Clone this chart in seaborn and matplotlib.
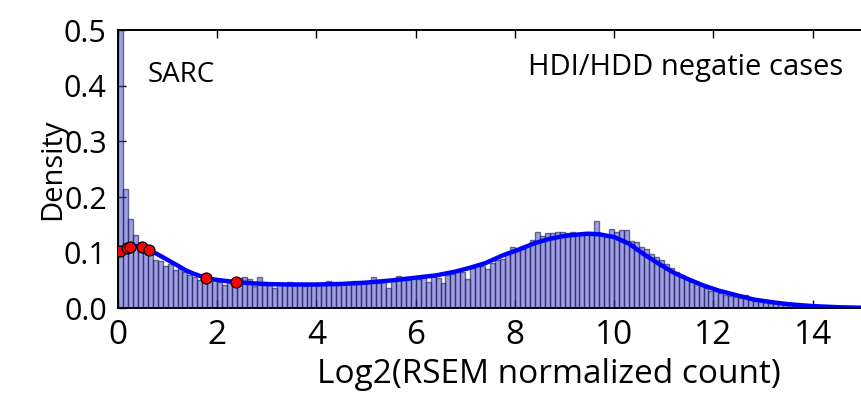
import numpy as np
import pandas as pd
import matplotlib
matplotlib.use('Agg')
import matplotlib.pyplot as plt
import seaborn as sns

sns.set_style('ticks')
plt.rcParams['font.family'] = ['Open Sans', 'DejaVu Sans']

# histogram: density per 0.1-wide bin, starting at 0.0
bin_width = 0.1
hist_density = [
    0.62, 0.214, 0.160, 0.131, 0.113, 0.106, 0.099, 0.086, 0.085, 0.076,
    0.080, 0.068, 0.072, 0.065, 0.059, 0.056, 0.050, 0.055, 0.051, 0.052,
    0.047, 0.042, 0.050, 0.049, 0.054, 0.056, 0.053, 0.040, 0.056, 0.047,
    0.041, 0.036, 0.044, 0.043, 0.047, 0.042, 0.045, 0.040, 0.043, 0.044,
    0.042, 0.045, 0.049, 0.043, 0.041, 0.044, 0.046, 0.049, 0.043, 0.045,
    0.047, 0.056, 0.046, 0.048, 0.036, 0.049, 0.058, 0.050, 0.051, 0.054,
    0.053, 0.060, 0.048, 0.058, 0.054, 0.045, 0.060, 0.061, 0.068, 0.066,
    0.052, 0.072, 0.079, 0.076, 0.071, 0.082, 0.087, 0.089, 0.101, 0.110,
    0.103, 0.106, 0.112, 0.122, 0.137, 0.130, 0.135, 0.135, 0.137, 0.138,
    0.136, 0.138, 0.134, 0.132, 0.133, 0.138, 0.157, 0.134, 0.131, 0.142,
    0.137, 0.140, 0.140, 0.121, 0.119, 0.111, 0.106, 0.098, 0.092, 0.086,
    0.079, 0.072, 0.066, 0.059, 0.052, 0.048, 0.044, 0.040, 0.036, 0.032,
    0.031, 0.027, 0.024, 0.022, 0.020, 0.019, 0.024, 0.017, 0.014, 0.013,
    0.012, 0.010, 0.009, 0.008, 0.008, 0.007, 0.006, 0.005, 0.005, 0.004,
    0.004, 0.003, 0.003, 0.003, 0.002, 0.002, 0.002, 0.002, 0.001, 0.001,
]

# density curve
kde_x = [0.0, 0.05, 0.1, 0.19, 0.25, 0.35, 0.48, 0.62, 0.8, 1.0, 1.2, 1.35,
         1.5, 1.77, 2.0, 2.37, 2.7, 3.0, 3.5, 4.0, 4.5, 5.0, 5.5, 6.0, 6.4,
         6.8, 7.1, 7.4, 7.75, 8.0, 8.4, 8.7, 9.0, 9.2, 9.45, 9.7, 10.0, 10.3,
         10.6, 10.9, 11.2, 11.5, 11.8, 12.1, 12.4, 12.8, 13.1, 13.45, 13.7,
         14.0, 14.5, 15.0]
kde_y = [0.100, 0.103, 0.106, 0.109, 0.111, 0.112, 0.110, 0.105, 0.097, 0.087,
         0.077, 0.069, 0.063, 0.0545, 0.051, 0.047, 0.045, 0.0435, 0.0428,
         0.0428, 0.0438, 0.0462, 0.050, 0.055, 0.059, 0.066, 0.073, 0.081,
         0.095, 0.103, 0.117, 0.125, 0.130, 0.132, 0.134, 0.133, 0.128, 0.116,
         0.097, 0.080, 0.064, 0.052, 0.041, 0.032, 0.025, 0.016, 0.012, 0.008,
         0.006, 0.004, 0.002, 0.001]

# highlighted samples (red dots)
pts_x = [0.05, 0.19, 0.25, 0.48, 0.62, 1.77, 2.37]
pts_y = [0.103, 0.109, 0.111, 0.110, 0.105, 0.0545, 0.047]

xticks = [0, 2, 4, 6, 8, 10, 12, 14]
yticks = [0.0, 0.1, 0.2, 0.3, 0.4, 0.5]

bin_left = [i * bin_width for i in range(len(hist_density))]
df_hist = pd.DataFrame({'x': [b + bin_width / 2 for b in bin_left], 'w': hist_density})

fig = plt.figure(figsize=(8.61, 3.93), dpi=100)
ax = fig.add_axes([0.137, 0.2155, 1.0, 0.708])

sns.histplot(data=df_hist, x='x', weights='w', binwidth=bin_width,
             binrange=(0, len(hist_density) * bin_width), stat='count',
             facecolor=(0.25, 0.25, 0.8, 0.5), edgecolor=(0.1, 0.1, 0.3, 0.6),
             linewidth=1.0, ax=ax)
sns.lineplot(x=kde_x, y=kde_y, color='blue', linewidth=3.2, ax=ax)
sns.scatterplot(x=pts_x, y=pts_y, color='red', edgecolor='black', linewidth=0.9,
                s=62, zorder=5, ax=ax)

ax.set_xlim(0, 17.35)
ax.set_ylim(0, 0.5)
ax.set_xticks(xticks)
ax.set_yticks(yticks)
ax.set_yticklabels([f'{v:.1f}' for v in yticks])
ax.tick_params(direction='in', length=6, width=1, top=True, right=True,
               pad=8, colors='black')
ax.tick_params(axis='x', labelsize=24)
ax.tick_params(axis='y', labelsize=22)
for sp in ax.spines.values():
    sp.set_linewidth(1.4)
    sp.set_color('black')

ax.set_xlabel('Log2(RSEM normalized count)', fontsize=24, color='black')
ax.set_ylabel('Density', fontsize=21, color='black')
ax.yaxis.set_label_coords(-0.059, 0.5)

ax.text(0.6, 0.42, 'SARC', fontsize=20, ha='left', va='center', color='black')
ax.text(8.27, 0.432, 'HDI/HDD negatie cases', fontsize=21, ha='left', va='center',
        color='black')

fig.savefig('out.png', dpi=100)
